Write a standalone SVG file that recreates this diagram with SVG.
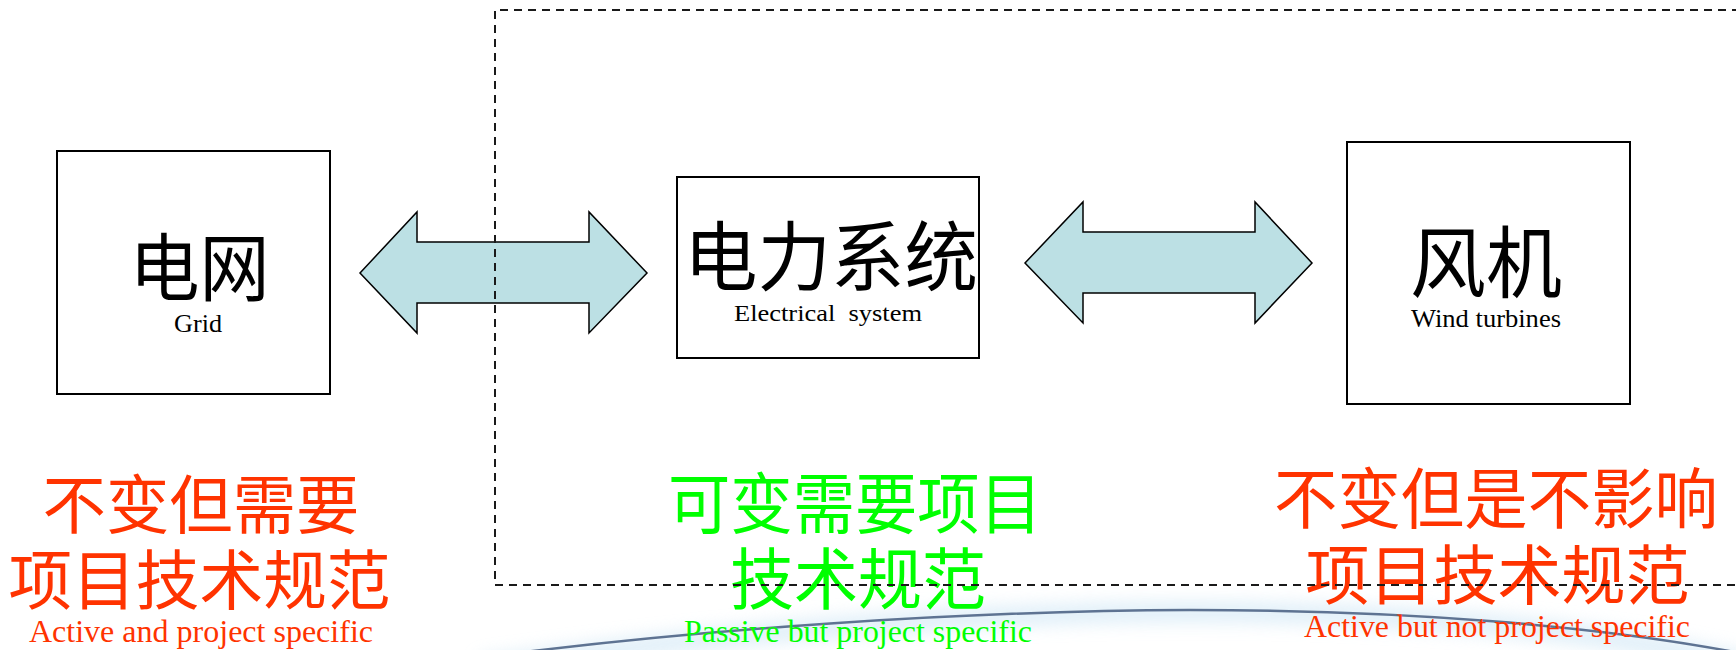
<svg xmlns="http://www.w3.org/2000/svg" width="1736" height="650" viewBox="0 0 1736 650">
  <style>
    .box { fill: #ffffff; stroke: #000000; stroke-width: 2; }
    .arrow { fill: #bce0e4; stroke: #000000; stroke-width: 1.5; stroke-linejoin: miter; }
    .cn { font-family: "Noto Sans CJK SC", "Noto Sans", sans-serif; text-anchor: middle; }
    .en { font-family: "Liberation Serif", "Times New Roman", serif; text-anchor: middle; }
    .black { fill: #000000; }
    .red { fill: #ff3300; }
    .green { fill: #00ff00; }
    .dash { fill: none; stroke: #1a1a1a; stroke-width: 2; stroke-dasharray: 8 6; }
  </style>
  <defs>
    <filter id="blur" x="-10%" y="-100%" width="120%" height="300%">
      <feGaussianBlur stdDeviation="8"/>
    </filter>
  </defs>
  <rect width="1736" height="650" fill="#ffffff"/>

  <g id="background-arc">
    <path d="M 480 668 C 700 636, 950 612, 1190 612 C 1400 612, 1600 628, 1760 668" fill="none" stroke="#cfe6f5" stroke-width="22" opacity="0.6" filter="url(#blur)"/>
    <path d="M 500 655 C 700 630, 950 611, 1190 610 C 1400 610, 1600 625, 1750 655" fill="none" stroke="#5e7392" stroke-width="2.5"/>
  </g>

  <g id="connectors">
    <polygon class="arrow" points="360,273 417,212 417,242 589,242 589,212 647,273 589,333 589,303 417,303 417,333"/>
    <polygon class="arrow" points="1025,263 1083,202 1083,232 1255,232 1255,202 1312,263 1255,323 1255,293 1083,293 1083,323"/>
  </g>

  <g id="node-grid">
    <rect class="box" x="57" y="151" width="273" height="243"/>
    <text class="cn black" x="199.5" y="295" font-size="74" textLength="140" lengthAdjust="spacingAndGlyphs">电网</text>
    <text class="en black" x="198" y="332" font-size="25" textLength="48" lengthAdjust="spacingAndGlyphs">Grid</text>
  </g>

  <g id="node-electrical">
    <rect class="box" x="677" y="177" width="302" height="181"/>
    <text class="cn black" x="831" y="285" font-size="76" textLength="294" lengthAdjust="spacingAndGlyphs">电力系统</text>
    <text class="en black" x="828" y="321" font-size="24" textLength="188" lengthAdjust="spacingAndGlyphs" style="white-space:pre">Electrical  system</text>
  </g>

  <g id="node-wind">
    <rect class="box" x="1347" y="142" width="283" height="262"/>
    <text class="cn black" x="1486" y="292" font-size="78" textLength="152" lengthAdjust="spacingAndGlyphs">风机</text>
    <text class="en black" x="1486" y="327" font-size="26" textLength="150" lengthAdjust="spacingAndGlyphs">Wind turbines</text>
  </g>

  <g id="label-grid">
    <text class="cn red" x="201" y="528" font-size="64" textLength="317" lengthAdjust="spacingAndGlyphs">不变但需要</text>
    <text class="cn red" x="199.5" y="604" font-size="65" textLength="382" lengthAdjust="spacingAndGlyphs">项目技术规范</text>
    <text class="en red" x="201" y="642" font-size="31" textLength="344" lengthAdjust="spacingAndGlyphs">Active and project specific</text>
  </g>

  <g id="label-electrical">
    <text class="cn green" x="855" y="528" font-size="66" textLength="374" lengthAdjust="spacingAndGlyphs">可变需要项目</text>
    <text class="cn green" x="858" y="604" font-size="67" textLength="256" lengthAdjust="spacingAndGlyphs">技术规范</text>
    <text class="en green" x="858" y="642" font-size="31" textLength="348" lengthAdjust="spacingAndGlyphs">Passive but project specific</text>
  </g>

  <g id="label-wind">
    <text class="cn red" x="1496" y="523" font-size="66" textLength="444" lengthAdjust="spacingAndGlyphs">不变但是不影响</text>
    <text class="cn red" x="1497.5" y="599" font-size="65" textLength="384" lengthAdjust="spacingAndGlyphs">项目技术规范</text>
    <text class="en red" x="1497" y="637" font-size="31" textLength="386" lengthAdjust="spacingAndGlyphs">Active but not project specific</text>
  </g>

  <g id="boundary">
    <path class="dash" d="M 1740 10 H 495 V 585 H 1740"/>
  </g>
</svg>
